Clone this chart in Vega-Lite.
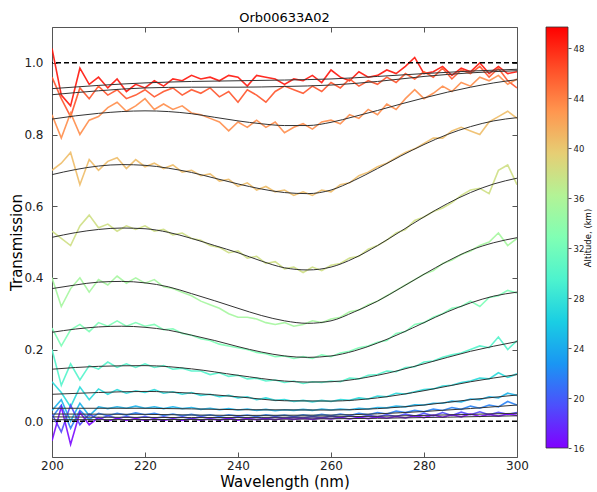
{
"$schema": "https://vega.github.io/schema/vega-lite/v6.json",
"padding": {"left": 9, "top": 11, "right": 5, "bottom": 5},
"background": "white",
"bounds": "flush",
"spacing": 29,
"config": {"view": {"stroke": null}, "font": "DejaVu Sans", "axis": {"grid": false, "labelColor": "#222", "titleColor": "#000", "tickColor": "#555", "labelFont": "DejaVu Sans", "titleFont": "DejaVu Sans"}, "title": {"font": "DejaVu Sans"}},
"datasets": {
"obs": [
{"a":48.8,"w":200,"t":1.04},{"a":48.8,"w":202,"t":0.91},{"a":48.8,"w":204,"t":0.88},{"a":48.8,"w":206,"t":0.985},{"a":48.8,"w":208,"t":0.94},{"a":48.8,"w":210,"t":0.96},{"a":48.8,"w":212,"t":0.93},{"a":48.8,"w":214,"t":0.955},{"a":48.8,"w":216,"t":0.92},{"a":48.8,"w":218,"t":0.94},
{"a":48.8,"w":220,"t":0.93},{"a":48.8,"w":222,"t":0.95},{"a":48.8,"w":224,"t":0.935},{"a":48.8,"w":226,"t":0.955},{"a":48.8,"w":228,"t":0.95},{"a":48.8,"w":230,"t":0.965},{"a":48.8,"w":232,"t":0.955},{"a":48.8,"w":234,"t":0.96},{"a":48.8,"w":236,"t":0.95},{"a":48.8,"w":238,"t":0.965},
{"a":48.8,"w":240,"t":0.96},{"a":48.8,"w":242,"t":0.935},{"a":48.8,"w":244,"t":0.965},{"a":48.8,"w":246,"t":0.96},{"a":48.8,"w":248,"t":0.955},{"a":48.8,"w":250,"t":0.94},{"a":48.8,"w":252,"t":0.955},{"a":48.8,"w":254,"t":0.95},{"a":48.8,"w":256,"t":0.965},{"a":48.8,"w":258,"t":0.945},
{"a":48.8,"w":260,"t":0.98},{"a":48.8,"w":262,"t":0.96},{"a":48.8,"w":264,"t":0.95},{"a":48.8,"w":266,"t":0.975},{"a":48.8,"w":268,"t":0.96},{"a":48.8,"w":270,"t":0.965},{"a":48.8,"w":272,"t":0.98},{"a":48.8,"w":274,"t":0.97},{"a":48.8,"w":276,"t":0.99},{"a":48.8,"w":278,"t":1.015},
{"a":48.8,"w":280,"t":0.97},{"a":48.8,"w":282,"t":0.975},{"a":48.8,"w":284,"t":0.99},{"a":48.8,"w":286,"t":0.965},{"a":48.8,"w":288,"t":0.985},{"a":48.8,"w":290,"t":0.975},{"a":48.8,"w":292,"t":1.0},{"a":48.8,"w":294,"t":0.97},{"a":48.8,"w":296,"t":0.99},{"a":48.8,"w":298,"t":0.97},{"a":48.8,"w":300,"t":0.975},
{"a":46.1,"w":200,"t":0.96},{"a":46.1,"w":202,"t":0.9},{"a":46.1,"w":204,"t":0.85},{"a":46.1,"w":206,"t":0.93},{"a":46.1,"w":208,"t":0.9},{"a":46.1,"w":210,"t":0.935},{"a":46.1,"w":212,"t":0.91},{"a":46.1,"w":214,"t":0.925},{"a":46.1,"w":216,"t":0.9},{"a":46.1,"w":218,"t":0.91},
{"a":46.1,"w":220,"t":0.925},{"a":46.1,"w":222,"t":0.905},{"a":46.1,"w":224,"t":0.92},{"a":46.1,"w":226,"t":0.93},{"a":46.1,"w":228,"t":0.91},{"a":46.1,"w":230,"t":0.925},{"a":46.1,"w":232,"t":0.915},{"a":46.1,"w":234,"t":0.93},{"a":46.1,"w":236,"t":0.905},{"a":46.1,"w":238,"t":0.92},
{"a":46.1,"w":240,"t":0.89},{"a":46.1,"w":242,"t":0.925},{"a":46.1,"w":244,"t":0.91},{"a":46.1,"w":246,"t":0.89},{"a":46.1,"w":248,"t":0.92},{"a":46.1,"w":250,"t":0.935},{"a":46.1,"w":252,"t":0.925},{"a":46.1,"w":254,"t":0.915},{"a":46.1,"w":256,"t":0.935},{"a":46.1,"w":258,"t":0.92},
{"a":46.1,"w":260,"t":0.945},{"a":46.1,"w":262,"t":0.93},{"a":46.1,"w":264,"t":0.955},{"a":46.1,"w":266,"t":0.935},{"a":46.1,"w":268,"t":0.95},{"a":46.1,"w":270,"t":0.94},{"a":46.1,"w":272,"t":0.96},{"a":46.1,"w":274,"t":0.945},{"a":46.1,"w":276,"t":0.97},{"a":46.1,"w":278,"t":0.955},
{"a":46.1,"w":280,"t":0.975},{"a":46.1,"w":282,"t":0.96},{"a":46.1,"w":284,"t":0.985},{"a":46.1,"w":286,"t":0.955},{"a":46.1,"w":288,"t":0.98},{"a":46.1,"w":290,"t":0.97},{"a":46.1,"w":292,"t":0.99},{"a":46.1,"w":294,"t":0.96},{"a":46.1,"w":296,"t":0.985},{"a":46.1,"w":298,"t":0.95},{"a":46.1,"w":300,"t":0.93},
{"a":43.4,"w":200,"t":0.855},{"a":43.4,"w":202,"t":0.79},{"a":43.4,"w":204,"t":0.86},{"a":43.4,"w":206,"t":0.8},{"a":43.4,"w":208,"t":0.84},{"a":43.4,"w":210,"t":0.85},{"a":43.4,"w":212,"t":0.875},{"a":43.4,"w":214,"t":0.89},{"a":43.4,"w":216,"t":0.865},{"a":43.4,"w":218,"t":0.88},
{"a":43.4,"w":220,"t":0.9},{"a":43.4,"w":222,"t":0.87},{"a":43.4,"w":224,"t":0.885},{"a":43.4,"w":226,"t":0.87},{"a":43.4,"w":228,"t":0.88},{"a":43.4,"w":230,"t":0.86},{"a":43.4,"w":232,"t":0.855},{"a":43.4,"w":234,"t":0.845},{"a":43.4,"w":236,"t":0.835},{"a":43.4,"w":238,"t":0.81},
{"a":43.4,"w":240,"t":0.835},{"a":43.4,"w":242,"t":0.82},{"a":43.4,"w":244,"t":0.84},{"a":43.4,"w":246,"t":0.82},{"a":43.4,"w":248,"t":0.835},{"a":43.4,"w":250,"t":0.805},{"a":43.4,"w":252,"t":0.82},{"a":43.4,"w":254,"t":0.83},{"a":43.4,"w":256,"t":0.815},{"a":43.4,"w":258,"t":0.835},
{"a":43.4,"w":260,"t":0.84},{"a":43.4,"w":262,"t":0.83},{"a":43.4,"w":264,"t":0.855},{"a":43.4,"w":266,"t":0.845},{"a":43.4,"w":268,"t":0.87},{"a":43.4,"w":270,"t":0.855},{"a":43.4,"w":272,"t":0.885},{"a":43.4,"w":274,"t":0.87},{"a":43.4,"w":276,"t":0.9},{"a":43.4,"w":278,"t":0.925},
{"a":43.4,"w":280,"t":0.9},{"a":43.4,"w":282,"t":0.915},{"a":43.4,"w":284,"t":0.935},{"a":43.4,"w":286,"t":0.92},{"a":43.4,"w":288,"t":0.945},{"a":43.4,"w":290,"t":0.935},{"a":43.4,"w":292,"t":0.96},{"a":43.4,"w":294,"t":0.95},{"a":43.4,"w":296,"t":0.965},{"a":43.4,"w":298,"t":0.94},{"a":43.4,"w":300,"t":0.955},
{"a":40.7,"w":200,"t":0.7},{"a":40.7,"w":202,"t":0.72},{"a":40.7,"w":204,"t":0.75},{"a":40.7,"w":206,"t":0.66},{"a":40.7,"w":208,"t":0.73},{"a":40.7,"w":210,"t":0.7},{"a":40.7,"w":212,"t":0.725},{"a":40.7,"w":214,"t":0.735},{"a":40.7,"w":216,"t":0.705},{"a":40.7,"w":218,"t":0.73},
{"a":40.7,"w":220,"t":0.71},{"a":40.7,"w":222,"t":0.72},{"a":40.7,"w":224,"t":0.705},{"a":40.7,"w":226,"t":0.715},{"a":40.7,"w":228,"t":0.695},{"a":40.7,"w":230,"t":0.7},{"a":40.7,"w":232,"t":0.685},{"a":40.7,"w":234,"t":0.69},{"a":40.7,"w":236,"t":0.67},{"a":40.7,"w":238,"t":0.675},
{"a":40.7,"w":240,"t":0.655},{"a":40.7,"w":242,"t":0.665},{"a":40.7,"w":244,"t":0.645},{"a":40.7,"w":246,"t":0.655},{"a":40.7,"w":248,"t":0.64},{"a":40.7,"w":250,"t":0.645},{"a":40.7,"w":252,"t":0.63},{"a":40.7,"w":254,"t":0.64},{"a":40.7,"w":256,"t":0.63},{"a":40.7,"w":258,"t":0.645},
{"a":40.7,"w":260,"t":0.64},{"a":40.7,"w":262,"t":0.66},{"a":40.7,"w":264,"t":0.665},{"a":40.7,"w":266,"t":0.685},{"a":40.7,"w":268,"t":0.695},{"a":40.7,"w":270,"t":0.71},{"a":40.7,"w":272,"t":0.72},{"a":40.7,"w":274,"t":0.735},{"a":40.7,"w":276,"t":0.75},{"a":40.7,"w":278,"t":0.76},
{"a":40.7,"w":280,"t":0.775},{"a":40.7,"w":282,"t":0.79},{"a":40.7,"w":284,"t":0.79},{"a":40.7,"w":286,"t":0.81},{"a":40.7,"w":288,"t":0.82},{"a":40.7,"w":290,"t":0.81},{"a":40.7,"w":292,"t":0.8},{"a":40.7,"w":294,"t":0.835},{"a":40.7,"w":296,"t":0.85},{"a":40.7,"w":298,"t":0.865},{"a":40.7,"w":300,"t":0.845},
{"a":38,"w":200,"t":0.53},{"a":38,"w":202,"t":0.51},{"a":38,"w":204,"t":0.49},{"a":38,"w":206,"t":0.545},{"a":38,"w":208,"t":0.575},{"a":38,"w":210,"t":0.54},{"a":38,"w":212,"t":0.55},{"a":38,"w":214,"t":0.53},{"a":38,"w":216,"t":0.545},{"a":38,"w":218,"t":0.535},
{"a":38,"w":220,"t":0.545},{"a":38,"w":222,"t":0.53},{"a":38,"w":224,"t":0.535},{"a":38,"w":226,"t":0.52},{"a":38,"w":228,"t":0.525},{"a":38,"w":230,"t":0.51},{"a":38,"w":232,"t":0.505},{"a":38,"w":234,"t":0.49},{"a":38,"w":236,"t":0.485},{"a":38,"w":238,"t":0.47},
{"a":38,"w":240,"t":0.475},{"a":38,"w":242,"t":0.455},{"a":38,"w":244,"t":0.46},{"a":38,"w":246,"t":0.44},{"a":38,"w":248,"t":0.445},{"a":38,"w":250,"t":0.425},{"a":38,"w":252,"t":0.43},{"a":38,"w":254,"t":0.415},{"a":38,"w":256,"t":0.43},{"a":38,"w":258,"t":0.42},
{"a":38,"w":260,"t":0.435},{"a":38,"w":262,"t":0.44},{"a":38,"w":264,"t":0.455},{"a":38,"w":266,"t":0.46},{"a":38,"w":268,"t":0.48},{"a":38,"w":270,"t":0.49},{"a":38,"w":272,"t":0.505},{"a":38,"w":274,"t":0.525},{"a":38,"w":276,"t":0.535},{"a":38,"w":278,"t":0.56},
{"a":38,"w":280,"t":0.57},{"a":38,"w":282,"t":0.585},{"a":38,"w":284,"t":0.595},{"a":38,"w":286,"t":0.61},{"a":38,"w":288,"t":0.63},{"a":38,"w":290,"t":0.645},{"a":38,"w":292,"t":0.65},{"a":38,"w":294,"t":0.635},{"a":38,"w":296,"t":0.7},{"a":38,"w":298,"t":0.715},{"a":38,"w":300,"t":0.66},
{"a":35.3,"w":200,"t":0.4},{"a":35.3,"w":202,"t":0.32},{"a":35.3,"w":204,"t":0.37},{"a":35.3,"w":206,"t":0.4},{"a":35.3,"w":208,"t":0.36},{"a":35.3,"w":210,"t":0.395},{"a":35.3,"w":212,"t":0.38},{"a":35.3,"w":214,"t":0.405},{"a":35.3,"w":216,"t":0.385},{"a":35.3,"w":218,"t":0.4},
{"a":35.3,"w":220,"t":0.385},{"a":35.3,"w":222,"t":0.395},{"a":35.3,"w":224,"t":0.375},{"a":35.3,"w":226,"t":0.37},{"a":35.3,"w":228,"t":0.36},{"a":35.3,"w":230,"t":0.35},{"a":35.3,"w":232,"t":0.335},{"a":35.3,"w":234,"t":0.325},{"a":35.3,"w":236,"t":0.315},{"a":35.3,"w":238,"t":0.3},
{"a":35.3,"w":240,"t":0.29},{"a":35.3,"w":242,"t":0.29},{"a":35.3,"w":244,"t":0.285},{"a":35.3,"w":246,"t":0.275},{"a":35.3,"w":248,"t":0.27},{"a":35.3,"w":250,"t":0.275},{"a":35.3,"w":252,"t":0.265},{"a":35.3,"w":254,"t":0.27},{"a":35.3,"w":256,"t":0.28},{"a":35.3,"w":258,"t":0.275},
{"a":35.3,"w":260,"t":0.285},{"a":35.3,"w":262,"t":0.29},{"a":35.3,"w":264,"t":0.305},{"a":35.3,"w":266,"t":0.31},{"a":35.3,"w":268,"t":0.325},{"a":35.3,"w":270,"t":0.335},{"a":35.3,"w":272,"t":0.35},{"a":35.3,"w":274,"t":0.365},{"a":35.3,"w":276,"t":0.38},{"a":35.3,"w":278,"t":0.395},
{"a":35.3,"w":280,"t":0.41},{"a":35.3,"w":282,"t":0.42},{"a":35.3,"w":284,"t":0.44},{"a":35.3,"w":286,"t":0.45},{"a":35.3,"w":288,"t":0.465},{"a":35.3,"w":290,"t":0.475},{"a":35.3,"w":292,"t":0.49},{"a":35.3,"w":294,"t":0.5},{"a":35.3,"w":296,"t":0.525},{"a":35.3,"w":298,"t":0.49},{"a":35.3,"w":300,"t":0.51},
{"a":32.6,"w":200,"t":0.26},{"a":32.6,"w":202,"t":0.21},{"a":32.6,"w":204,"t":0.255},{"a":32.6,"w":206,"t":0.27},{"a":32.6,"w":208,"t":0.25},{"a":32.6,"w":210,"t":0.275},{"a":32.6,"w":212,"t":0.265},{"a":32.6,"w":214,"t":0.28},{"a":32.6,"w":216,"t":0.265},{"a":32.6,"w":218,"t":0.275},
{"a":32.6,"w":220,"t":0.265},{"a":32.6,"w":222,"t":0.27},{"a":32.6,"w":224,"t":0.255},{"a":32.6,"w":226,"t":0.258},{"a":32.6,"w":228,"t":0.245},{"a":32.6,"w":230,"t":0.24},{"a":32.6,"w":232,"t":0.23},{"a":32.6,"w":234,"t":0.225},{"a":32.6,"w":236,"t":0.215},{"a":32.6,"w":238,"t":0.21},
{"a":32.6,"w":240,"t":0.205},{"a":32.6,"w":242,"t":0.2},{"a":32.6,"w":244,"t":0.192},{"a":32.6,"w":246,"t":0.188},{"a":32.6,"w":248,"t":0.18},{"a":32.6,"w":250,"t":0.182},{"a":32.6,"w":252,"t":0.175},{"a":32.6,"w":254,"t":0.18},{"a":32.6,"w":256,"t":0.175},{"a":32.6,"w":258,"t":0.185},
{"a":32.6,"w":260,"t":0.18},{"a":32.6,"w":262,"t":0.19},{"a":32.6,"w":264,"t":0.195},{"a":32.6,"w":266,"t":0.205},{"a":32.6,"w":268,"t":0.21},{"a":32.6,"w":270,"t":0.22},{"a":32.6,"w":272,"t":0.225},{"a":32.6,"w":274,"t":0.245},{"a":32.6,"w":276,"t":0.25},{"a":32.6,"w":278,"t":0.27},
{"a":32.6,"w":280,"t":0.275},{"a":32.6,"w":282,"t":0.29},{"a":32.6,"w":284,"t":0.3},{"a":32.6,"w":286,"t":0.315},{"a":32.6,"w":288,"t":0.32},{"a":32.6,"w":290,"t":0.335},{"a":32.6,"w":292,"t":0.32},{"a":32.6,"w":294,"t":0.345},{"a":32.6,"w":296,"t":0.35},{"a":32.6,"w":298,"t":0.365},{"a":32.6,"w":300,"t":0.358},
{"a":29.9,"w":200,"t":0.2},{"a":29.9,"w":202,"t":0.1},{"a":29.9,"w":204,"t":0.16},{"a":29.9,"w":206,"t":0.115},{"a":29.9,"w":208,"t":0.155},{"a":29.9,"w":210,"t":0.145},{"a":29.9,"w":212,"t":0.165},{"a":29.9,"w":214,"t":0.15},{"a":29.9,"w":216,"t":0.16},{"a":29.9,"w":218,"t":0.15},
{"a":29.9,"w":220,"t":0.16},{"a":29.9,"w":222,"t":0.15},{"a":29.9,"w":224,"t":0.155},{"a":29.9,"w":226,"t":0.145},{"a":29.9,"w":228,"t":0.148},{"a":29.9,"w":230,"t":0.14},{"a":29.9,"w":232,"t":0.14},{"a":29.9,"w":234,"t":0.13},{"a":29.9,"w":236,"t":0.135},{"a":29.9,"w":238,"t":0.125},
{"a":29.9,"w":240,"t":0.128},{"a":29.9,"w":242,"t":0.118},{"a":29.9,"w":244,"t":0.12},{"a":29.9,"w":246,"t":0.112},{"a":29.9,"w":248,"t":0.115},{"a":29.9,"w":250,"t":0.108},{"a":29.9,"w":252,"t":0.112},{"a":29.9,"w":254,"t":0.105},{"a":29.9,"w":256,"t":0.11},{"a":29.9,"w":258,"t":0.108},
{"a":29.9,"w":260,"t":0.112},{"a":29.9,"w":262,"t":0.11},{"a":29.9,"w":264,"t":0.12},{"a":29.9,"w":266,"t":0.118},{"a":29.9,"w":268,"t":0.128},{"a":29.9,"w":270,"t":0.13},{"a":29.9,"w":272,"t":0.14},{"a":29.9,"w":274,"t":0.138},{"a":29.9,"w":276,"t":0.15},{"a":29.9,"w":278,"t":0.152},
{"a":29.9,"w":280,"t":0.165},{"a":29.9,"w":282,"t":0.168},{"a":29.9,"w":284,"t":0.178},{"a":29.9,"w":286,"t":0.185},{"a":29.9,"w":288,"t":0.19},{"a":29.9,"w":290,"t":0.2},{"a":29.9,"w":292,"t":0.21},{"a":29.9,"w":294,"t":0.205},{"a":29.9,"w":296,"t":0.235},{"a":29.9,"w":298,"t":0.2},{"a":29.9,"w":300,"t":0.225},
{"a":27.2,"w":200,"t":0.11},{"a":27.2,"w":202,"t":0.08},{"a":27.2,"w":204,"t":0.04},{"a":27.2,"w":206,"t":0.095},{"a":27.2,"w":208,"t":0.06},{"a":27.2,"w":210,"t":0.09},{"a":27.2,"w":212,"t":0.075},{"a":27.2,"w":214,"t":0.088},{"a":27.2,"w":216,"t":0.078},{"a":27.2,"w":218,"t":0.085},
{"a":27.2,"w":220,"t":0.08},{"a":27.2,"w":222,"t":0.088},{"a":27.2,"w":224,"t":0.078},{"a":27.2,"w":226,"t":0.082},{"a":27.2,"w":228,"t":0.075},{"a":27.2,"w":230,"t":0.08},{"a":27.2,"w":232,"t":0.072},{"a":27.2,"w":234,"t":0.075},{"a":27.2,"w":236,"t":0.068},{"a":27.2,"w":238,"t":0.072},
{"a":27.2,"w":240,"t":0.065},{"a":27.2,"w":242,"t":0.068},{"a":27.2,"w":244,"t":0.06},{"a":27.2,"w":246,"t":0.065},{"a":27.2,"w":248,"t":0.058},{"a":27.2,"w":250,"t":0.06},{"a":27.2,"w":252,"t":0.055},{"a":27.2,"w":254,"t":0.058},{"a":27.2,"w":256,"t":0.054},{"a":27.2,"w":258,"t":0.058},
{"a":27.2,"w":260,"t":0.055},{"a":27.2,"w":262,"t":0.06},{"a":27.2,"w":264,"t":0.058},{"a":27.2,"w":266,"t":0.065},{"a":27.2,"w":268,"t":0.062},{"a":27.2,"w":270,"t":0.07},{"a":27.2,"w":272,"t":0.068},{"a":27.2,"w":274,"t":0.078},{"a":27.2,"w":276,"t":0.076},{"a":27.2,"w":278,"t":0.082},
{"a":27.2,"w":280,"t":0.088},{"a":27.2,"w":282,"t":0.09},{"a":27.2,"w":284,"t":0.098},{"a":27.2,"w":286,"t":0.1},{"a":27.2,"w":288,"t":0.108},{"a":27.2,"w":290,"t":0.112},{"a":27.2,"w":292,"t":0.12},{"a":27.2,"w":294,"t":0.118},{"a":27.2,"w":296,"t":0.135},{"a":27.2,"w":298,"t":0.122},{"a":27.2,"w":300,"t":0.132},
{"a":24.5,"w":200,"t":0.03},{"a":24.5,"w":202,"t":0.06},{"a":24.5,"w":204,"t":0.0},{"a":24.5,"w":206,"t":0.05},{"a":24.5,"w":208,"t":0.015},{"a":24.5,"w":210,"t":0.04},{"a":24.5,"w":212,"t":0.035},{"a":24.5,"w":214,"t":0.04},{"a":24.5,"w":216,"t":0.036},{"a":24.5,"w":218,"t":0.042},
{"a":24.5,"w":220,"t":0.036},{"a":24.5,"w":222,"t":0.04},{"a":24.5,"w":224,"t":0.035},{"a":24.5,"w":226,"t":0.04},{"a":24.5,"w":228,"t":0.035},{"a":24.5,"w":230,"t":0.038},{"a":24.5,"w":232,"t":0.033},{"a":24.5,"w":234,"t":0.036},{"a":24.5,"w":236,"t":0.032},{"a":24.5,"w":238,"t":0.035},
{"a":24.5,"w":240,"t":0.031},{"a":24.5,"w":242,"t":0.034},{"a":24.5,"w":244,"t":0.03},{"a":24.5,"w":246,"t":0.033},{"a":24.5,"w":248,"t":0.029},{"a":24.5,"w":250,"t":0.032},{"a":24.5,"w":252,"t":0.03},{"a":24.5,"w":254,"t":0.033},{"a":24.5,"w":256,"t":0.03},{"a":24.5,"w":258,"t":0.034},
{"a":24.5,"w":260,"t":0.031},{"a":24.5,"w":262,"t":0.034},{"a":24.5,"w":264,"t":0.032},{"a":24.5,"w":266,"t":0.036},{"a":24.5,"w":268,"t":0.034},{"a":24.5,"w":270,"t":0.038},{"a":24.5,"w":272,"t":0.037},{"a":24.5,"w":274,"t":0.042},{"a":24.5,"w":276,"t":0.04},{"a":24.5,"w":278,"t":0.046},
{"a":24.5,"w":280,"t":0.045},{"a":24.5,"w":282,"t":0.05},{"a":24.5,"w":284,"t":0.05},{"a":24.5,"w":286,"t":0.056},{"a":24.5,"w":288,"t":0.054},{"a":24.5,"w":290,"t":0.062},{"a":24.5,"w":292,"t":0.06},{"a":24.5,"w":294,"t":0.068},{"a":24.5,"w":296,"t":0.065},{"a":24.5,"w":298,"t":0.078},{"a":24.5,"w":300,"t":0.072},
{"a":21.8,"w":200,"t":0.01},{"a":21.8,"w":202,"t":0.045},{"a":21.8,"w":204,"t":-0.02},{"a":21.8,"w":206,"t":0.03},{"a":21.8,"w":208,"t":0.005},{"a":21.8,"w":210,"t":0.022},{"a":21.8,"w":212,"t":0.015},{"a":21.8,"w":214,"t":0.022},{"a":21.8,"w":216,"t":0.017},{"a":21.8,"w":218,"t":0.023},
{"a":21.8,"w":220,"t":0.018},{"a":21.8,"w":222,"t":0.022},{"a":21.8,"w":224,"t":0.016},{"a":21.8,"w":226,"t":0.02},{"a":21.8,"w":228,"t":0.015},{"a":21.8,"w":230,"t":0.019},{"a":21.8,"w":232,"t":0.014},{"a":21.8,"w":234,"t":0.018},{"a":21.8,"w":236,"t":0.013},{"a":21.8,"w":238,"t":0.018},
{"a":21.8,"w":240,"t":0.014},{"a":21.8,"w":242,"t":0.017},{"a":21.8,"w":244,"t":0.013},{"a":21.8,"w":246,"t":0.018},{"a":21.8,"w":248,"t":0.014},{"a":21.8,"w":250,"t":0.017},{"a":21.8,"w":252,"t":0.013},{"a":21.8,"w":254,"t":0.018},{"a":21.8,"w":256,"t":0.014},{"a":21.8,"w":258,"t":0.019},
{"a":21.8,"w":260,"t":0.015},{"a":21.8,"w":262,"t":0.02},{"a":21.8,"w":264,"t":0.016},{"a":21.8,"w":266,"t":0.022},{"a":21.8,"w":268,"t":0.018},{"a":21.8,"w":270,"t":0.024},{"a":21.8,"w":272,"t":0.02},{"a":21.8,"w":274,"t":0.028},{"a":21.8,"w":276,"t":0.024},{"a":21.8,"w":278,"t":0.03},
{"a":21.8,"w":280,"t":0.026},{"a":21.8,"w":282,"t":0.034},{"a":21.8,"w":284,"t":0.03},{"a":21.8,"w":286,"t":0.038},{"a":21.8,"w":288,"t":0.033},{"a":21.8,"w":290,"t":0.042},{"a":21.8,"w":292,"t":0.036},{"a":21.8,"w":294,"t":0.045},{"a":21.8,"w":296,"t":0.04},{"a":21.8,"w":298,"t":0.055},{"a":21.8,"w":300,"t":0.045},
{"a":19.1,"w":200,"t":0.02},{"a":19.1,"w":202,"t":-0.03},{"a":19.1,"w":204,"t":0.045},{"a":19.1,"w":206,"t":-0.01},{"a":19.1,"w":208,"t":0.02},{"a":19.1,"w":210,"t":0.005},{"a":19.1,"w":212,"t":0.015},{"a":19.1,"w":214,"t":0.008},{"a":19.1,"w":216,"t":0.013},{"a":19.1,"w":218,"t":0.009},
{"a":19.1,"w":220,"t":0.013},{"a":19.1,"w":222,"t":0.008},{"a":19.1,"w":224,"t":0.012},{"a":19.1,"w":226,"t":0.008},{"a":19.1,"w":228,"t":0.012},{"a":19.1,"w":230,"t":0.007},{"a":19.1,"w":232,"t":0.012},{"a":19.1,"w":234,"t":0.008},{"a":19.1,"w":236,"t":0.011},{"a":19.1,"w":238,"t":0.007},
{"a":19.1,"w":240,"t":0.012},{"a":19.1,"w":242,"t":0.008},{"a":19.1,"w":244,"t":0.011},{"a":19.1,"w":246,"t":0.007},{"a":19.1,"w":248,"t":0.012},{"a":19.1,"w":250,"t":0.008},{"a":19.1,"w":252,"t":0.012},{"a":19.1,"w":254,"t":0.009},{"a":19.1,"w":256,"t":0.013},{"a":19.1,"w":258,"t":0.009},
{"a":19.1,"w":260,"t":0.014},{"a":19.1,"w":262,"t":0.01},{"a":19.1,"w":264,"t":0.015},{"a":19.1,"w":266,"t":0.011},{"a":19.1,"w":268,"t":0.016},{"a":19.1,"w":270,"t":0.012},{"a":19.1,"w":272,"t":0.018},{"a":19.1,"w":274,"t":0.013},{"a":19.1,"w":276,"t":0.02},{"a":19.1,"w":278,"t":0.014},
{"a":19.1,"w":280,"t":0.022},{"a":19.1,"w":282,"t":0.015},{"a":19.1,"w":284,"t":0.024},{"a":19.1,"w":286,"t":0.016},{"a":19.1,"w":288,"t":0.025},{"a":19.1,"w":290,"t":0.018},{"a":19.1,"w":292,"t":0.026},{"a":19.1,"w":294,"t":0.018},{"a":19.1,"w":296,"t":0.025},{"a":19.1,"w":298,"t":0.019},{"a":19.1,"w":300,"t":0.024},
{"a":16.4,"w":200,"t":-0.055},{"a":16.4,"w":202,"t":0.04},{"a":16.4,"w":204,"t":-0.065},{"a":16.4,"w":206,"t":0.025},{"a":16.4,"w":208,"t":-0.01},{"a":16.4,"w":210,"t":0.01},{"a":16.4,"w":212,"t":0.0},{"a":16.4,"w":214,"t":0.008},{"a":16.4,"w":216,"t":0.002},{"a":16.4,"w":218,"t":0.007},
{"a":16.4,"w":220,"t":0.002},{"a":16.4,"w":222,"t":0.006},{"a":16.4,"w":224,"t":0.002},{"a":16.4,"w":226,"t":0.006},{"a":16.4,"w":228,"t":0.002},{"a":16.4,"w":230,"t":0.006},{"a":16.4,"w":232,"t":0.003},{"a":16.4,"w":234,"t":0.006},{"a":16.4,"w":236,"t":0.003},{"a":16.4,"w":238,"t":0.007},
{"a":16.4,"w":240,"t":0.003},{"a":16.4,"w":242,"t":0.007},{"a":16.4,"w":244,"t":0.004},{"a":16.4,"w":246,"t":0.007},{"a":16.4,"w":248,"t":0.004},{"a":16.4,"w":250,"t":0.008},{"a":16.4,"w":252,"t":0.005},{"a":16.4,"w":254,"t":0.008},{"a":16.4,"w":256,"t":0.005},{"a":16.4,"w":258,"t":0.009},
{"a":16.4,"w":260,"t":0.006},{"a":16.4,"w":262,"t":0.01},{"a":16.4,"w":264,"t":0.006},{"a":16.4,"w":266,"t":0.011},{"a":16.4,"w":268,"t":0.007},{"a":16.4,"w":270,"t":0.012},{"a":16.4,"w":272,"t":0.008},{"a":16.4,"w":274,"t":0.013},{"a":16.4,"w":276,"t":0.009},{"a":16.4,"w":278,"t":0.015},
{"a":16.4,"w":280,"t":0.01},{"a":16.4,"w":282,"t":0.017},{"a":16.4,"w":284,"t":0.011},{"a":16.4,"w":286,"t":0.018},{"a":16.4,"w":288,"t":0.012},{"a":16.4,"w":290,"t":0.02},{"a":16.4,"w":292,"t":0.013},{"a":16.4,"w":294,"t":0.019},{"a":16.4,"w":296,"t":0.014},{"a":16.4,"w":298,"t":0.02},{"a":16.4,"w":300,"t":0.016}
],
"fit": [
{"a":48.8,"w":200,"t":0.928},{"a":48.8,"w":210,"t":0.937},{"a":48.8,"w":220,"t":0.944},{"a":48.8,"w":230,"t":0.948},{"a":48.8,"w":240,"t":0.95},{"a":48.8,"w":250,"t":0.952},{"a":48.8,"w":260,"t":0.955},{"a":48.8,"w":270,"t":0.962},{"a":48.8,"w":280,"t":0.97},{"a":48.8,"w":290,"t":0.977},{"a":48.8,"w":300,"t":0.982},
{"a":46.1,"w":200,"t":0.911},{"a":46.1,"w":210,"t":0.922},{"a":46.1,"w":220,"t":0.93},{"a":46.1,"w":230,"t":0.932},{"a":46.1,"w":240,"t":0.932},{"a":46.1,"w":250,"t":0.934},{"a":46.1,"w":260,"t":0.938},{"a":46.1,"w":270,"t":0.948},{"a":46.1,"w":280,"t":0.962},{"a":46.1,"w":290,"t":0.972},{"a":46.1,"w":300,"t":0.978},
{"a":43.4,"w":200,"t":0.843},{"a":43.4,"w":205,"t":0.852},{"a":43.4,"w":210,"t":0.859},{"a":43.4,"w":215,"t":0.864},{"a":43.4,"w":220,"t":0.866},{"a":43.4,"w":225,"t":0.864},{"a":43.4,"w":230,"t":0.858},{"a":43.4,"w":235,"t":0.848},{"a":43.4,"w":240,"t":0.838},{"a":43.4,"w":245,"t":0.83},{"a":43.4,"w":250,"t":0.825},{"a":43.4,"w":255,"t":0.825},{"a":43.4,"w":260,"t":0.834},{"a":43.4,"w":265,"t":0.85},{"a":43.4,"w":270,"t":0.867},{"a":43.4,"w":275,"t":0.885},{"a":43.4,"w":280,"t":0.902},{"a":43.4,"w":285,"t":0.918},{"a":43.4,"w":290,"t":0.932},{"a":43.4,"w":295,"t":0.944},{"a":43.4,"w":300,"t":0.953},
{"a":40.7,"w":200,"t":0.688},{"a":40.7,"w":205,"t":0.702},{"a":40.7,"w":210,"t":0.712},{"a":40.7,"w":215,"t":0.716},{"a":40.7,"w":220,"t":0.714},{"a":40.7,"w":225,"t":0.706},{"a":40.7,"w":230,"t":0.694},{"a":40.7,"w":235,"t":0.678},{"a":40.7,"w":240,"t":0.662},{"a":40.7,"w":245,"t":0.648},{"a":40.7,"w":250,"t":0.638},{"a":40.7,"w":255,"t":0.635},{"a":40.7,"w":260,"t":0.645},{"a":40.7,"w":265,"t":0.672},{"a":40.7,"w":270,"t":0.705},{"a":40.7,"w":275,"t":0.74},{"a":40.7,"w":280,"t":0.772},{"a":40.7,"w":285,"t":0.8},{"a":40.7,"w":290,"t":0.822},{"a":40.7,"w":295,"t":0.838},{"a":40.7,"w":300,"t":0.847},
{"a":38,"w":200,"t":0.513},{"a":38,"w":205,"t":0.526},{"a":38,"w":210,"t":0.535},{"a":38,"w":215,"t":0.539},{"a":38,"w":220,"t":0.537},{"a":38,"w":225,"t":0.527},{"a":38,"w":230,"t":0.51},{"a":38,"w":235,"t":0.49},{"a":38,"w":240,"t":0.47},{"a":38,"w":245,"t":0.447},{"a":38,"w":250,"t":0.428},{"a":38,"w":255,"t":0.422},{"a":38,"w":260,"t":0.43},{"a":38,"w":265,"t":0.455},{"a":38,"w":270,"t":0.49},{"a":38,"w":275,"t":0.53},{"a":38,"w":280,"t":0.57},{"a":38,"w":285,"t":0.607},{"a":38,"w":290,"t":0.638},{"a":38,"w":295,"t":0.662},{"a":38,"w":300,"t":0.678},
{"a":35.3,"w":200,"t":0.37},{"a":35.3,"w":205,"t":0.38},{"a":35.3,"w":210,"t":0.388},{"a":35.3,"w":215,"t":0.39},{"a":35.3,"w":220,"t":0.386},{"a":35.3,"w":225,"t":0.375},{"a":35.3,"w":230,"t":0.356},{"a":35.3,"w":235,"t":0.336},{"a":35.3,"w":240,"t":0.315},{"a":35.3,"w":245,"t":0.295},{"a":35.3,"w":250,"t":0.28},{"a":35.3,"w":255,"t":0.273},{"a":35.3,"w":260,"t":0.28},{"a":35.3,"w":265,"t":0.305},{"a":35.3,"w":270,"t":0.335},{"a":35.3,"w":275,"t":0.372},{"a":35.3,"w":280,"t":0.41},{"a":35.3,"w":285,"t":0.446},{"a":35.3,"w":290,"t":0.477},{"a":35.3,"w":295,"t":0.498},{"a":35.3,"w":300,"t":0.512},
{"a":32.6,"w":200,"t":0.248},{"a":32.6,"w":205,"t":0.257},{"a":32.6,"w":210,"t":0.263},{"a":32.6,"w":215,"t":0.265},{"a":32.6,"w":220,"t":0.262},{"a":32.6,"w":225,"t":0.254},{"a":32.6,"w":230,"t":0.24},{"a":32.6,"w":235,"t":0.225},{"a":32.6,"w":240,"t":0.208},{"a":32.6,"w":245,"t":0.193},{"a":32.6,"w":250,"t":0.182},{"a":32.6,"w":255,"t":0.178},{"a":32.6,"w":260,"t":0.182},{"a":32.6,"w":265,"t":0.196},{"a":32.6,"w":270,"t":0.218},{"a":32.6,"w":275,"t":0.245},{"a":32.6,"w":280,"t":0.275},{"a":32.6,"w":285,"t":0.305},{"a":32.6,"w":290,"t":0.33},{"a":32.6,"w":295,"t":0.349},{"a":32.6,"w":300,"t":0.36},
{"a":29.9,"w":200,"t":0.145},{"a":29.9,"w":210,"t":0.153},{"a":29.9,"w":220,"t":0.155},{"a":29.9,"w":230,"t":0.146},{"a":29.9,"w":240,"t":0.128},{"a":29.9,"w":250,"t":0.112},{"a":29.9,"w":255,"t":0.109},{"a":29.9,"w":260,"t":0.11},{"a":29.9,"w":270,"t":0.128},{"a":29.9,"w":280,"t":0.16},{"a":29.9,"w":290,"t":0.195},{"a":29.9,"w":300,"t":0.222},
{"a":27.2,"w":200,"t":0.075},{"a":27.2,"w":210,"t":0.08},{"a":27.2,"w":220,"t":0.083},{"a":27.2,"w":230,"t":0.078},{"a":27.2,"w":240,"t":0.068},{"a":27.2,"w":250,"t":0.057},{"a":27.2,"w":260,"t":0.056},{"a":27.2,"w":270,"t":0.065},{"a":27.2,"w":280,"t":0.085},{"a":27.2,"w":290,"t":0.11},{"a":27.2,"w":300,"t":0.13},
{"a":24.5,"w":200,"t":0.036},{"a":24.5,"w":220,"t":0.036},{"a":24.5,"w":240,"t":0.032},{"a":24.5,"w":260,"t":0.031},{"a":24.5,"w":270,"t":0.035},{"a":24.5,"w":280,"t":0.045},{"a":24.5,"w":290,"t":0.06},{"a":24.5,"w":300,"t":0.073},
{"a":21.8,"w":200,"t":0.02},{"a":21.8,"w":220,"t":0.019},{"a":21.8,"w":240,"t":0.016},{"a":21.8,"w":260,"t":0.017},{"a":21.8,"w":280,"t":0.027},{"a":21.8,"w":300,"t":0.045},
{"a":19.1,"w":200,"t":0.012},{"a":19.1,"w":230,"t":0.01},{"a":19.1,"w":260,"t":0.012},{"a":19.1,"w":280,"t":0.016},{"a":19.1,"w":300,"t":0.022},
{"a":16.4,"w":200,"t":0.004},{"a":16.4,"w":240,"t":0.005},{"a":16.4,"w":270,"t":0.008},{"a":16.4,"w":300,"t":0.015}
]
},
"hconcat": [
{
"width": 465,
"height": 430,
"view": {"stroke": "#555", "strokeWidth": 1},
"title": {"text": "Orb00633A02", "fontSize": 13, "fontWeight": "normal", "color": "#000", "offset": 2},
"resolve": {"axis": {"x": "independent", "y": "independent"}},
"layer": [
{
"data": {"name": "obs"},
"mark": {"type": "line", "strokeWidth": 1.6, "opacity": 0.9, "clip": true},
"encoding": {
"x": {"field": "w", "type": "quantitative", "scale": {"domain": [200, 300], "nice": false, "zero": false},
 "axis": {"orient": "bottom", "values": [200, 220, 240, 260, 280, 300], "title": "Wavelength (nm)", "titleFontSize": 15, "titleFontWeight": "normal", "titlePadding": 3, "labelFontSize": 12, "labelPadding": 8, "labelFlush": false, "tickSize": -5, "domain": false}},
"y": {"field": "t", "type": "quantitative", "scale": {"domain": [-0.1, 1.1], "nice": false, "zero": false},
 "axis": {"orient": "left", "values": [0, 0.2, 0.4, 0.6, 0.8, 1.0], "format": ".1f", "title": "Transmission", "titleFontSize": 15, "titleFontWeight": "normal", "titlePadding": -1, "labelFontSize": 12, "labelPadding": 14, "labelFlush": false, "tickSize": -5, "domain": false}},
"color": {"field": "a", "type": "quantitative", "legend": null, "scale": {"domain": [16, 19.37, 22.74, 26.11, 29.48, 32.85, 36.22, 39.59, 42.96, 46.33, 49.7], "range": ["#8000ff", "#4d4ffc", "#1a96f3", "#1acee3", "#4df3ce", "#80ffb4", "#b3f396", "#e6ce74", "#ff964f", "#ff4f28", "#ff0000"], "interpolate": "rgb"}},
"detail": {"field": "a", "type": "quantitative"}
}
},
{
"data": {"name": "fit"},
"mark": {"type": "line", "strokeWidth": 1, "color": "#333", "interpolate": "monotone", "clip": true},
"encoding": {
"x": {"field": "w", "type": "quantitative", "axis": {"orient": "top", "values": [200, 220, 240, 260, 280, 300], "labels": false, "title": null, "tickSize": -5, "domain": false}},
"y": {"field": "t", "type": "quantitative", "axis": {"orient": "right", "values": [0, 0.2, 0.4, 0.6, 0.8, 1.0], "labels": false, "title": null, "tickSize": -5, "domain": false}},
"detail": {"field": "a", "type": "quantitative"}
}
},
{
"data": {"values": [{"r": 0}, {"r": 1}]},
"mark": {"type": "rule", "color": "#000", "strokeWidth": 1.5, "strokeDash": [5, 3]},
"encoding": {
"y": {"field": "r", "type": "quantitative", "axis": null}
}
}
]
},
{
"width": 22,
"height": 421,
"data": {"values": [{"lo": 16, "hi": 49.7}]},
"mark": {"type": "rect", "stroke": "#333", "strokeWidth": 0.8, "color": {"gradient": "linear", "x1": 0, "y1": 1, "x2": 0, "y2": 0, "stops": [{"offset": 0, "color": "#8000ff"}, {"offset": 0.1, "color": "#4d4ffc"}, {"offset": 0.2, "color": "#1a96f3"}, {"offset": 0.3, "color": "#1acee3"}, {"offset": 0.4, "color": "#4df3ce"}, {"offset": 0.5, "color": "#80ffb4"}, {"offset": 0.6, "color": "#b3f396"}, {"offset": 0.7, "color": "#e6ce74"}, {"offset": 0.8, "color": "#ff964f"}, {"offset": 0.9, "color": "#ff4f28"}, {"offset": 1, "color": "#ff0000"}]}},
"encoding": {
"y": {"field": "lo", "type": "quantitative", "scale": {"domain": [16, 49.7], "nice": false, "zero": false},
 "axis": {"orient": "right", "values": [16, 20, 24, 28, 32, 36, 40, 44, 48], "title": "Altitude, (km)", "titleFontSize": 8.5, "titleFontWeight": "normal", "titleAngle": 270, "titleBaseline": "top", "titlePadding": 0, "labelFontSize": 8.5, "labelPadding": 2, "labelFlush": false, "tickSize": 3, "domain": false}},
"y2": {"field": "hi"}
}
}
]
}
